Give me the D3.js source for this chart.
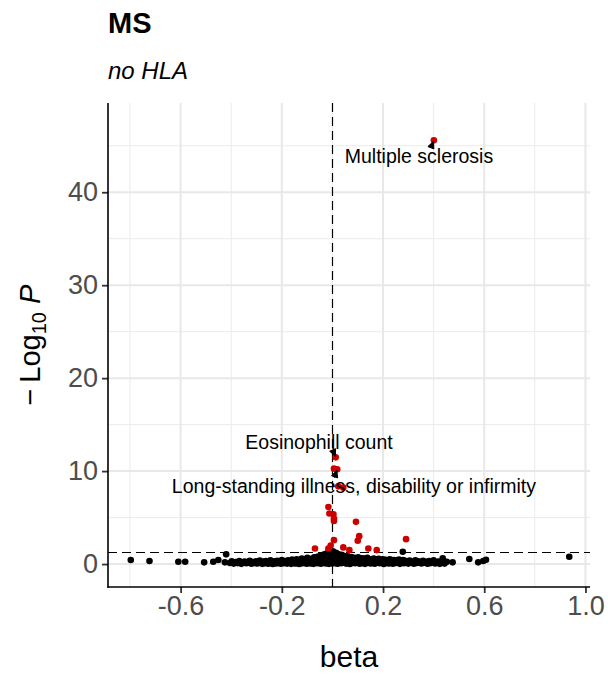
<!DOCTYPE html>
<html><head><meta charset="utf-8">
<script src="https://cdn.jsdelivr.net/npm/d3@7"></script>
<style>body{margin:0;background:#fff}svg{display:block}</style>
</head><body><svg id="c" width="608" height="675"></svg>
<script>
const title = "MS";
const subtitle = "no HLA";
const xLabel = "beta";
const xTicks = [-0.6, -0.2, 0.2, 0.6, 1.0];
const xMinor = [-0.8, -0.4, 0, 0.4, 0.8];
const yTicks = [0, 10, 20, 30, 40];
const yMinor = [5, 15, 25, 35, 45];
const pLine = 1.30103;   // -log10(0.05)
const vLine = 0;

// significant (red) points [beta, -log10 P]
const sigPoints = [
  [0.401,45.58],[0.013,11.48],[0.006,10.26],[0.019,10.19],[0.023,8.36],[0.043,8.22],
  [-0.016,6.14],[-0.012,5.44],[0.004,5.36],[0.006,4.90],[0.006,4.64],[0.093,4.54],
  [0.106,3.00],[0.100,2.50],[0.291,2.68],[0.006,2.57],[-0.007,2.00],[-0.016,1.68],
  [-0.069,1.68],[0.043,1.79],[0.067,1.50],[0.142,1.68],[0.175,1.50]
];

// non-significant (black) points [beta, -log10 P]
const nsPoints = [
  [0.278,1.32],[-0.420,1.04],[0.936,0.79],[-0.797,0.43],[-0.723,0.32],[-0.609,0.25],
  [-0.582,0.25],[-0.507,0.18],[-0.471,0.25],[-0.451,0.43],[-0.425,0.18],[0.436,0.61],
  [0.452,0.25],[0.475,0.18],[0.541,0.54],[0.576,0.18],[0.596,0.32],[0.607,0.46],
  [-0.405,0.12],[-0.398,0.30],[-0.39,0.05],[-0.382,0.22],[-0.375,0.10],[-0.368,0.33],
  [-0.36,0.02],[-0.353,0.18],[-0.347,0.27],[-0.34,0.08],[-0.333,0.15],[-0.327,0.35],
  [-0.32,0.04],[-0.314,0.22],[-0.308,0.11],[-0.302,0.29],
  [-0.297,0.06],[-0.292,0.19],[-0.287,0.38],[-0.282,0.12],[-0.277,0.02],[-0.272,0.27],
  [-0.268,0.09],[-0.263,0.33],[-0.258,0.16],[-0.254,0.04],[-0.249,0.24],[-0.245,0.41],
  [-0.24,0.11],[-0.236,0.01],[-0.231,0.30],[-0.227,0.18],[-0.222,0.07],[-0.218,0.36],
  [-0.213,0.13],[-0.209,0.25],[-0.204,0.03],[-0.2,0.44],[-0.196,0.17],[-0.192,0.09],
  [-0.187,0.31],[-0.183,0.22],[-0.179,0.05],[-0.175,0.39],[-0.171,0.14],[-0.167,0.27],
  [-0.163,0.02],[-0.159,0.47],[-0.155,0.20],[-0.151,0.10],
  [-0.148,0.33],[-0.145,0.06],[-0.141,0.52],[-0.138,0.15],[-0.135,0.26],[-0.131,0.01],
  [-0.128,0.41],[-0.125,0.19],[-0.121,0.60],[-0.118,0.08],[-0.115,0.34],[-0.112,0.23],
  [-0.108,0.48],[-0.105,0.12],[-0.102,0.03],[-0.099,0.66],[-0.096,0.29],[-0.093,0.17],
  [-0.09,0.44],[-0.087,0.07],[-0.084,0.56],[-0.081,0.21],[-0.078,0.36],[-0.075,0.02],
  [-0.072,0.72],[-0.069,0.13],[-0.066,0.49],[-0.063,0.27],[-0.06,0.09],[-0.057,0.80],
  [-0.054,0.38],[-0.051,0.18],
  [-0.048,0.62],[-0.046,0.04],[-0.044,0.95],[-0.042,0.28],[-0.04,0.47],[-0.038,0.12],
  [-0.036,0.83],[-0.034,0.36],[-0.032,1.05],[-0.03,0.20],[-0.028,0.58],[-0.026,0.07],
  [-0.024,0.90],[-0.022,0.42],[-0.02,1.18],[-0.018,0.25],[-0.016,0.70],[-0.014,0.02],
  [-0.012,1.30],[-0.01,0.51],[-0.008,0.15],[-0.006,1.10],[-0.004,0.33],[-0.002,0.78],
  [0.0,0.06],[0.002,1.38],[0.004,0.45],[0.006,0.22],[0.008,0.98],[0.01,0.64],
  [0.012,0.10],[0.014,1.22],[0.016,0.37],[0.018,0.85],[0.02,0.03],[0.022,1.08],
  [0.024,0.55],[0.026,0.18],[0.028,0.92],[0.03,0.30],[0.032,0.74],[0.034,0.08],
  [0.036,1.00],[0.038,0.40],[0.04,0.61],[0.042,0.14],[0.044,0.88],[0.046,0.26],[0.048,0.50],
  [0.051,0.70],[0.054,0.05],[0.057,0.42],[0.06,0.83],[0.063,0.19],[0.066,0.58],
  [0.069,0.01],[0.072,0.35],[0.075,0.76],[0.078,0.12],[0.081,0.48],[0.084,0.27],
  [0.087,0.66],[0.09,0.08],[0.093,0.39],[0.096,0.55],[0.099,0.16],[0.102,0.72],
  [0.105,0.31],[0.108,0.04],[0.111,0.50],[0.114,0.22],[0.117,0.63],[0.12,0.10],
  [0.123,0.37],[0.126,0.58],[0.129,0.02],[0.132,0.44],[0.135,0.20],[0.138,0.67],
  [0.141,0.13],[0.144,0.33],[0.147,0.52],
  [0.151,0.07],[0.155,0.41],[0.159,0.24],[0.163,0.60],[0.167,0.03],[0.171,0.30],
  [0.175,0.48],[0.179,0.15],[0.183,0.56],[0.187,0.09],[0.191,0.36],[0.195,0.22],
  [0.199,0.51],[0.203,0.01],[0.207,0.28],[0.211,0.45],[0.215,0.12],[0.219,0.38],
  [0.223,0.06],[0.227,0.50],[0.231,0.19],[0.235,0.33],[0.239,0.04],[0.243,0.44],
  [0.247,0.26],[0.251,0.11],[0.255,0.40],[0.259,0.17],[0.263,0.47],[0.267,0.02],
  [0.271,0.31],[0.275,0.21],[0.279,0.42],[0.283,0.08],[0.287,0.35],[0.291,0.14],[0.295,0.28],
  [0.30,0.05],[0.305,0.38],[0.31,0.18],[0.316,0.27],[0.322,0.03],[0.328,0.41],
  [0.334,0.12],[0.34,0.30],[0.346,0.20],[0.352,0.07],[0.358,0.36],[0.364,0.15],
  [0.37,0.25],[0.376,0.04],[0.382,0.33],[0.388,0.10],[0.394,0.22],[0.40,0.39],
  [0.406,0.06],[0.412,0.18],[0.418,0.28],[0.424,0.02],[0.43,0.14],[0.436,0.24],[0.443,0.05]
];

// labelled points: text, point [beta, nlp], label centre [beta, nlp]
const labelTexts = ["Multiple sclerosis", "Eosinophill count", "Long-standing illness, disability or infirmity"];
const labelPoints = [[0.401,45.58],[0.013,11.48],[0.019,10.19]];
const labelCentres = [[0.342,43.9],[-0.053,13.1],[0.085,8.4]];

const FONT = "'Liberation Sans', Arial, Helvetica, sans-serif";
const svg = d3.select("#c");
const L = 108, R = 590, T = 103, B = 587;
const x = d3.scaleLinear().domain([-0.887, 1.018]).range([L, R]);
const y = d3.scaleLinear().domain([-2.47, 49.6]).range([B, T]);

const grid = svg.append("g");
grid.selectAll(".xm").data(xMinor).join("line")
  .attr("x1", d => x(d)).attr("x2", d => x(d)).attr("y1", T).attr("y2", B)
  .attr("stroke", "#ebebeb").attr("stroke-width", 1);
grid.selectAll(".ym").data(yMinor).join("line")
  .attr("y1", d => y(d)).attr("y2", d => y(d)).attr("x1", L).attr("x2", R)
  .attr("stroke", "#ebebeb").attr("stroke-width", 1);
grid.selectAll(".xM").data(xTicks).join("line")
  .attr("x1", d => x(d)).attr("x2", d => x(d)).attr("y1", T).attr("y2", B)
  .attr("stroke", "#e8e8e8").attr("stroke-width", 2);
grid.selectAll(".yM").data(yTicks).join("line")
  .attr("y1", d => y(d)).attr("y2", d => y(d)).attr("x1", L).attr("x2", R)
  .attr("stroke", "#e8e8e8").attr("stroke-width", 2);

// reference lines
svg.append("line").attr("x1", Math.round(x(vLine)) + 0.5).attr("x2", Math.round(x(vLine)) + 0.5).attr("y1", T).attr("y2", B)
  .attr("stroke", "#000").attr("stroke-width", 1.2).attr("stroke-dasharray", "9,5");
svg.append("line").attr("x1", L).attr("x2", R).attr("y1", Math.round(y(pLine)) + 0.5).attr("y2", Math.round(y(pLine)) + 0.5)
  .attr("stroke", "#000").attr("stroke-width", 1.2).attr("stroke-dasharray", "9,5");

// points
const R_PT = 3.3;
svg.append("g").selectAll("circle").data(nsPoints).join("circle")
  .attr("cx", d => x(d[0])).attr("cy", d => y(d[1])).attr("r", R_PT).attr("fill", "#000");
svg.append("g").selectAll("circle").data(sigPoints).join("circle")
  .attr("cx", d => x(d[0])).attr("cy", d => y(d[1])).attr("r", R_PT).attr("fill", "#cd0000");

// axes
const xAxis = svg.append("g").attr("transform", `translate(0,${B})`)
  .call(d3.axisBottom(x).tickValues(xTicks).tickSize(6).tickPadding(3).tickFormat(d => d.toFixed(1)));
const yAxis = svg.append("g").attr("transform", `translate(${L},0)`)
  .call(d3.axisLeft(y).tickValues(yTicks).tickSize(6).tickPadding(4).tickFormat(d => String(d)));
[xAxis, yAxis].forEach(a => {
  a.select(".domain").remove();
  a.selectAll(".tick line").attr("stroke", "#333").attr("stroke-width", 1.8);
  a.selectAll(".tick text").attr("fill", "#4d4d4d").attr("font-size", 27).attr("font-family", FONT);
});
svg.append("line").attr("x1", L).attr("x2", L).attr("y1", T).attr("y2", B + 0.8)
  .attr("stroke", "#000").attr("stroke-width", 1.6);
svg.append("line").attr("x1", L - 0.8).attr("x2", R).attr("y1", B).attr("y2", B)
  .attr("stroke", "#000").attr("stroke-width", 1.6);

// titles
svg.append("text").attr("x", L).attr("y", 33).attr("font-family", FONT)
  .attr("font-weight", "bold").attr("font-size", 29).text(title);
svg.append("text").attr("x", L).attr("y", 79).attr("font-family", FONT)
  .attr("font-style", "italic").attr("font-size", 24).text(subtitle);
svg.append("text").attr("x", (L + R) / 2).attr("y", 667).attr("text-anchor", "middle")
  .attr("font-family", FONT).attr("font-size", 30).text(xLabel);
const yt = svg.append("text").attr("transform", `translate(40,${(T + B) / 2}) rotate(-90)`)
  .attr("text-anchor", "middle").attr("font-family", FONT).attr("font-size", 29);
yt.append("tspan").text("\u2212\u2009Log");
yt.append("tspan").attr("font-size", 20).attr("dy", 6).text("10");
yt.append("tspan").attr("dy", -6).text(" ");
yt.append("tspan").attr("font-style", "italic").text("P");

// labels with arrows
const lab = svg.append("g");
labelTexts.forEach((txt, i) => {
  const px = x(labelPoints[i][0]), py = y(labelPoints[i][1]);
  const lx = x(labelCentres[i][0]), ly = y(labelCentres[i][1]);
  const t = lab.append("text").attr("x", lx).attr("y", ly).attr("dy", "0.35em")
    .attr("text-anchor", "middle").attr("font-family", FONT).attr("font-size", 19.5)
    .attr("fill", "#000").text(txt);
  const bb = t.node().getBBox();
  const sx = Math.max(bb.x, Math.min(bb.x + bb.width, px - 3));
  const sy = py < bb.y ? bb.y + 3 : bb.y + bb.height - 3;
  const dx = px - sx, dy = py - sy, len = Math.hypot(dx, dy);
  const ux = dx / len, uy = dy / len;
  const tipx = px - ux * 1, tipy = py - uy * 1;
  const hl = Math.min(7, len), hw = 3.2;
  const bx = tipx - ux * hl, by = tipy - uy * hl;
  lab.append("line").attr("x1", sx).attr("y1", sy).attr("x2", bx).attr("y2", by)
    .attr("stroke", "#000").attr("stroke-width", 1);
  lab.append("path").attr("d", `M${tipx},${tipy}L${bx - uy * hw},${by + ux * hw}L${bx + uy * hw},${by - ux * hw}Z`)
    .attr("fill", "#000").attr("stroke", "#000").attr("stroke-width", 1);
});
</script>
</body></html>
